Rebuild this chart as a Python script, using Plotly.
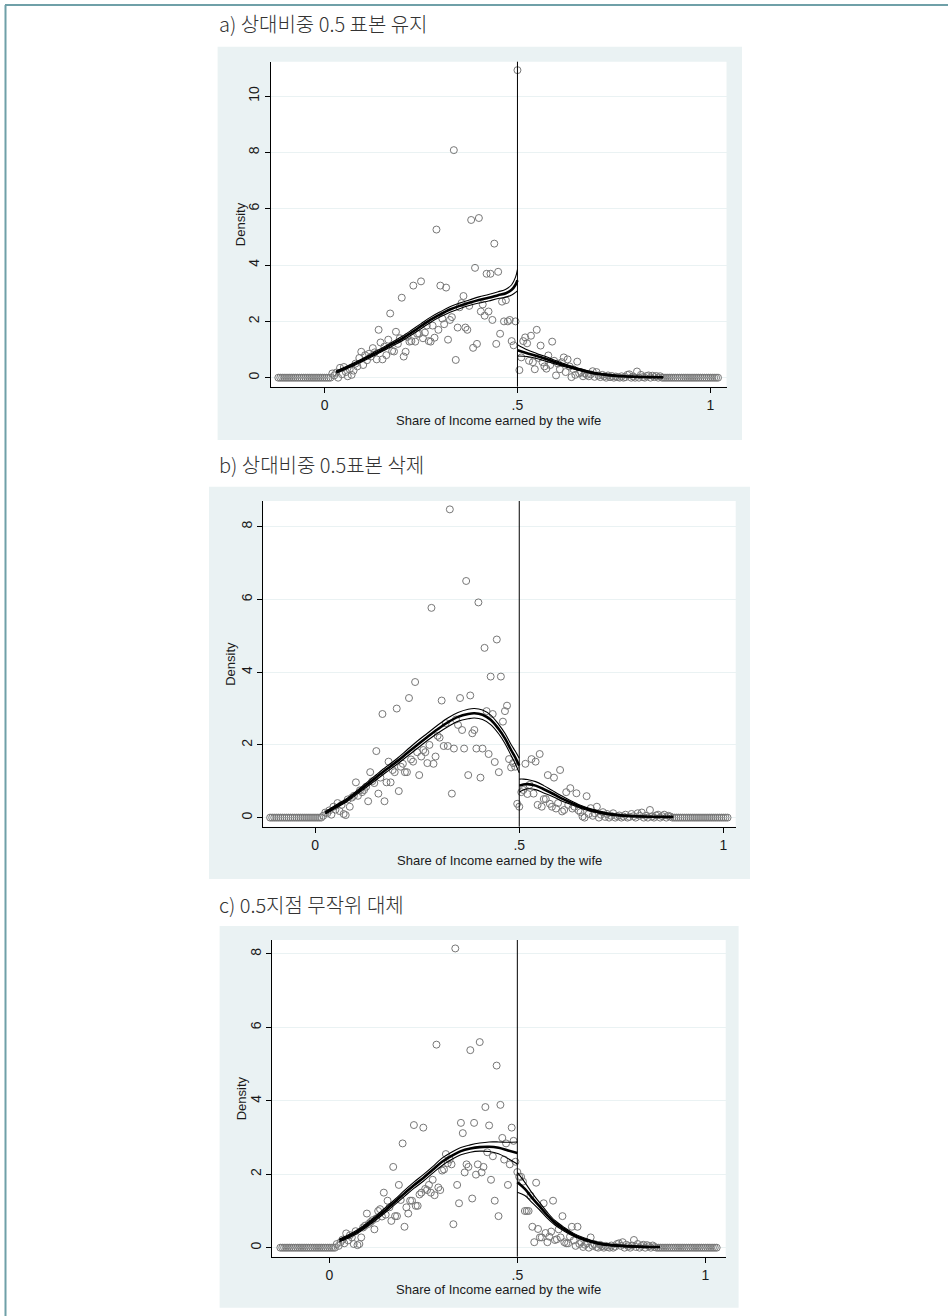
import numpy as np
import plotly.graph_objects as go

# ---------------- data ----------------
BIN_WIDTH = 0.005
DENS_START = 0.02          # first bin covered by the *_density lists below

tick_vals_x = [0, 0.5, 1]
tick_text_x = ["0", ".5", "1"]

panel_titles = ["a) 상대비중 0.5 표본 유지", "b) 상대비중 0.5표본 삭제", "c) 0.5지점 무작위 대체"]
x_title = "Share of Income earned by the wife"
y_title = "Density"

# bin range (first / last bin centre) for each panel
a_bins = (-0.12, 1.02)
b_bins = (-0.11, 1.01)
c_bins = (-0.13, 1.03)

# bin densities for bins 0.020, 0.025, ..., 0.870 (others are 0)
a_density = [
    0.15, 0.08, 0.18, 0.0, 0.35, 0.12, 0.38, 0.2, 0.05, 0.3,
    0.1, 0.25, 0.5, 0.4, 0.7, 0.92, 0.45, 0.8, 0.62, 0.85,
    0.75, 1.05, 0.9, 0.65, 1.7, 1.25, 0.65, 1.1, 0.8, 1.35,
    2.28, 0.95, 0.93, 1.63, 1.2, 1.4, 2.84, 0.75, 0.92, 1.45,
    1.28, 1.3, 3.27, 1.28, 1.56, 1.56, 3.42, 1.4, 1.6, 1.85,
    1.3, 1.28, 1.85, 1.42, 5.26, 1.7, 3.27, 2.1, 1.9, 3.2,
    1.35, 2.05, 2.15, 8.08, 0.63, 1.78, 2.5, 2.65, 2.9, 1.78,
    1.7, 2.55, 5.6, 1.06, 3.9, 1.2, 5.67, 2.35, 2.6, 2.2,
    3.69, 2.35, 3.69, 2.05, 4.76, 1.2, 3.76, 1.56, 2.7, 2.0,
    2.75, 2.0, 2.05, 1.3, 1.15, 2.0, 10.92,
    0.27, 0.72, 1.3, 1.43, 1.22, 0.6, 1.49, 0.55, 0.3, 1.7,
    0.7, 1.14, 0.55, 0.4, 0.32, 0.79, 0.45, 1.28, 0.6, 0.08,
    0.5, 0.3, 0.55, 0.72, 0.2, 0.65, 0.4, 0.02, 0.3, 0.1,
    0.57, 0.15, 0.2, 0.05, 0.15, 0.1, 0.05, 0.12, 0.23, 0.03,
    0.2, 0.08, 0.02, 0.1, 0.05, 0.0, 0.08, 0.02, 0.06, 0.0,
    0.04, 0.02, 0.0, 0.05, 0.0, 0.02, 0.1, 0.12, 0.0, 0.04,
    0.0, 0.22, 0.0, 0.1, 0.02, 0.0, 0.06, 0.08, 0.0, 0.07,
    0.02, 0.06, 0.0, 0.05,
]
b_density = [
    0.05, 0.14, 0.12, 0.2, 0.08, 0.3, 0.22, 0.4, 0.18, 0.35,
    0.1, 0.07, 0.5, 0.3, 0.55, 0.6, 0.97, 0.6, 0.75, 0.7,
    0.76, 0.85, 0.45, 1.25, 1.0, 0.95, 1.83, 0.66, 1.1, 2.85,
    0.45, 0.97, 1.54, 0.97, 1.31, 1.25, 3.0, 0.73, 1.4, 1.48,
    1.25, 1.25, 3.29, 1.6, 1.54, 3.73, 1.8, 1.17, 1.68, 1.86,
    1.8, 1.5, 2.0, 5.77, 1.48, 1.68, 2.25, 2.2, 3.22, 1.97,
    2.6, 1.97, 8.48, 0.66, 1.9, 2.7, 2.55, 3.29, 2.41, 1.9,
    6.51, 1.17, 3.36, 2.32, 2.41, 1.9, 5.92, 1.1, 1.9, 4.67,
    2.93, 1.75, 3.88, 2.85, 1.53, 4.9, 1.25, 3.88, 2.64, 2.93,
    3.08, 1.61, 1.38, 1.5, 1.4, 0.38, 0.3,
    0.7, 0.76, 1.48, 0.65, 0.9, 1.61, 0.66, 1.54, 0.35, 1.75,
    0.3, 0.51, 0.51, 1.17, 0.38, 0.3, 1.1, 0.25, 0.4, 1.31,
    0.17, 0.21, 0.7, 0.35, 0.81, 0.25, 0.3, 0.67, 0.2, 0.15,
    0.03, 0.0, 0.59, 0.1, 0.26, 0.05, 0.12, 0.3, 0.0, 0.08,
    0.15, 0.02, 0.1, 0.0, 0.05, 0.12, 0.0, 0.04, 0.06, 0.0,
    0.03, 0.08, 0.0, 0.02, 0.1, 0.04, 0.0, 0.12, 0.05, 0.14,
    0.0, 0.05, 0.0, 0.21, 0.03, 0.0, 0.06, 0.08, 0.0, 0.04,
    0.08, 0.0, 0.05, 0.03,
]
c_density = [
    0.1, 0.05, 0.15, 0.22, 0.12, 0.39, 0.2, 0.34, 0.28, 0.1,
    0.45, 0.07, 0.1, 0.28, 0.55, 0.6, 0.93, 0.65, 0.7, 0.75,
    0.5, 0.8, 1.0, 1.05, 0.85, 1.5, 0.9, 1.28, 1.1, 0.73,
    2.2, 0.86, 0.86, 1.71, 1.3, 2.84, 0.57, 1.1, 0.93, 1.28,
    1.28, 3.34, 1.14, 1.14, 1.45, 1.5, 3.27, 1.6, 1.57, 1.71,
    1.5, 1.85, 1.43, 5.53, 1.64, 1.57, 2.1, 2.13, 2.55, 2.3,
    2.4, 2.27, 0.64, 8.15, 1.71, 1.21, 3.4, 3.12, 2.05, 2.27,
    2.2, 5.38, 1.34, 3.4, 1.99, 2.27, 5.6, 2.05, 2.2, 3.83,
    2.6, 3.33, 1.85, 2.49, 1.28, 4.96, 0.86, 3.89, 2.99, 2.4,
    2.84, 1.71, 2.27, 3.27, 2.91, 2.34, 2.06,
    1.93, 1.93, 1.8, 1.0, 1.0, 1.0, 1.42, 0.57, 0.15, 1.77,
    0.51, 0.28, 0.28, 1.21, 0.4, 0.15, 0.3, 0.44, 1.28, 0.21,
    0.23, 0.5, 0.28, 0.86, 0.15, 0.12, 0.12, 0.3, 0.57, 0.2,
    0.05, 0.57, 0.1, 0.15, 0.02, 0.08, 0.12, 0.0, 0.28, 0.05,
    0.1, 0.02, 0.0, 0.08, 0.04, 0.0, 0.05, 0.02, 0.0, 0.06,
    0.0, 0.03, 0.1, 0.12, 0.05, 0.15, 0.0, 0.08, 0.04, 0.0,
    0.06, 0.21, 0.02, 0.1, 0.0, 0.05, 0.08, 0.0, 0.07, 0.04,
    0.0, 0.06, 0.02, 0.0,
]

# fitted local-linear density, left and right of 0.5, with CI half widths
a_fit_left_x = [0.03, 0.05, 0.075, 0.1, 0.125, 0.15, 0.175, 0.2, 0.225, 0.25, 0.275, 0.3, 0.325, 0.35, 0.375, 0.4, 0.425, 0.45, 0.47, 0.485, 0.495, 0.5]
a_fit_left_y = [0.2, 0.32, 0.47, 0.64, 0.82, 1.0, 1.19, 1.38, 1.6, 1.83, 2.06, 2.25, 2.42, 2.55, 2.66, 2.76, 2.84, 2.93, 3.0, 3.12, 3.3, 3.46]
a_fit_left_hw = [0.04, 0.045, 0.05, 0.05, 0.06, 0.065, 0.07, 0.08, 0.085, 0.09, 0.09, 0.09, 0.095, 0.1, 0.1, 0.11, 0.115, 0.12, 0.14, 0.18, 0.27, 0.38]
a_fit_right_x = [0.5, 0.525, 0.55, 0.575, 0.6, 0.625, 0.65, 0.675, 0.7, 0.725, 0.75, 0.775, 0.8, 0.825, 0.85, 0.878]
a_fit_right_y = [0.97, 0.87, 0.77, 0.66, 0.54, 0.43, 0.33, 0.24, 0.16, 0.11, 0.075, 0.05, 0.035, 0.025, 0.02, 0.015]
a_fit_right_hw = [0.2, 0.12, 0.09, 0.08, 0.06, 0.05, 0.04, 0.035, 0.03, 0.025, 0.02, 0.015, 0.015, 0.012, 0.012, 0.012]

b_fit_left_x = [0.025, 0.05, 0.075, 0.1, 0.125, 0.15, 0.175, 0.2, 0.225, 0.25, 0.275, 0.3, 0.325, 0.35, 0.375, 0.39, 0.41, 0.43, 0.45, 0.465, 0.48, 0.49, 0.5]
b_fit_left_y = [0.13, 0.3, 0.46, 0.67, 0.89, 1.11, 1.33, 1.54, 1.77, 2.0, 2.22, 2.43, 2.62, 2.77, 2.85, 2.87, 2.83, 2.69, 2.43, 2.18, 1.86, 1.66, 1.43]
b_fit_left_hw = [0.03, 0.04, 0.045, 0.05, 0.06, 0.07, 0.075, 0.08, 0.09, 0.1, 0.1, 0.11, 0.12, 0.12, 0.13, 0.13, 0.13, 0.13, 0.13, 0.14, 0.15, 0.17, 0.2]
b_fit_right_x = [0.5, 0.51, 0.52, 0.54, 0.56, 0.58, 0.6, 0.625, 0.65, 0.675, 0.7, 0.725, 0.75, 0.8, 0.85, 0.877]
b_fit_right_y = [0.88, 0.91, 0.92, 0.88, 0.78, 0.67, 0.55, 0.42, 0.3, 0.21, 0.14, 0.09, 0.06, 0.03, 0.02, 0.02]
b_fit_right_hw = [0.18, 0.15, 0.13, 0.11, 0.1, 0.08, 0.07, 0.05, 0.04, 0.035, 0.03, 0.02, 0.02, 0.015, 0.012, 0.012]

c_fit_left_x = [0.027, 0.05, 0.075, 0.1, 0.125, 0.15, 0.175, 0.2, 0.225, 0.25, 0.275, 0.3, 0.325, 0.35, 0.375, 0.4, 0.425, 0.45, 0.475, 0.5]
c_fit_left_y = [0.2, 0.3, 0.44, 0.62, 0.82, 1.03, 1.25, 1.48, 1.7, 1.9, 2.12, 2.34, 2.5, 2.63, 2.7, 2.74, 2.75, 2.72, 2.65, 2.58]
c_fit_left_hw = [0.04, 0.045, 0.05, 0.05, 0.06, 0.065, 0.07, 0.08, 0.085, 0.09, 0.09, 0.1, 0.1, 0.1, 0.1, 0.11, 0.13, 0.16, 0.22, 0.3]
c_fit_right_x = [0.5, 0.52, 0.54, 0.56, 0.58, 0.6, 0.625, 0.65, 0.675, 0.7, 0.725, 0.75, 0.8, 0.85, 0.879]
c_fit_right_y = [1.78, 1.6, 1.35, 1.12, 0.88, 0.68, 0.5, 0.35, 0.24, 0.16, 0.1, 0.07, 0.035, 0.02, 0.02]
c_fit_right_hw = [0.27, 0.18, 0.13, 0.1, 0.08, 0.06, 0.05, 0.04, 0.035, 0.03, 0.025, 0.02, 0.015, 0.012, 0.012]

cutoff = 0.5

# ---------------- layout geometry (pixels in a 948x1316 page) ----------------
W, H = 948, 1316
panels = [
    dict(bins=a_bins, dens=a_density,
         fits=[(a_fit_left_x, a_fit_left_y, a_fit_left_hw), (a_fit_right_x, a_fit_right_y, a_fit_right_hw)],
         plot=(271, 726.5, 61.7, 386.7), bg=(217.6, 742, 46.7, 440), title_y=24,
         xr=[-0.139, 1.042], yr=[-0.32, 11.22], yt=[0, 2, 4, 6, 8, 10],
         xt_y=420, yt_x=240),
    dict(bins=b_bins, dens=b_density,
         fits=[(b_fit_left_x, b_fit_left_y, b_fit_left_hw), (b_fit_right_x, b_fit_right_y, b_fit_right_hw)],
         plot=(263.2, 735.7, 501, 826.7), bg=(209, 750, 486.7, 879), title_y=465,
         xr=[-0.127, 1.03], yr=[-0.25, 8.71], yt=[0, 2, 4, 6, 8],
         xt_y=860, yt_x=231),
    dict(bins=c_bins, dens=c_density,
         fits=[(c_fit_left_x, c_fit_left_y, c_fit_left_hw), (c_fit_right_x, c_fit_right_y, c_fit_right_hw)],
         plot=(272.1, 725.7, 940, 1256.7), bg=(219.6, 738.6, 926, 1307.7), title_y=905,
         xr=[-0.152, 1.054], yr=[-0.245, 8.38], yt=[0, 2, 4, 6, 8],
         xt_y=1289, yt_x=241),
]

def px_x(v):
    return v / W

def px_y(v):
    return 1 - v / H

AXIS_FONT = dict(family="Liberation Sans, Arial, sans-serif", size=13, color="#1a1a1a")
TICK_FONT = dict(family="Liberation Sans, Arial, sans-serif", size=14, color="#1a1a1a")
TITLE_FONT = dict(family="Noto Sans CJK KR, sans-serif", size=20, color="#333333", weight=300)
BG = "#eaf2f3"
DOT = "#777777"

fig = go.Figure()
shapes = []
annotations = []

# page border (top and left)
shapes.append(dict(type="line", xref="paper", yref="paper", x0=px_x(5), x1=1, y0=px_y(5), y1=px_y(5),
                   line=dict(color="#6fa0a8", width=2), layer="above"))
shapes.append(dict(type="line", xref="paper", yref="paper", x0=px_x(5.5), x1=px_x(5.5), y0=0, y1=px_y(5),
                   line=dict(color="#6fa0a8", width=2), layer="above"))

for i, p in enumerate(panels):
    n = i + 1
    xa = "x" if n == 1 else f"x{n}"
    ya = "y" if n == 1 else f"y{n}"
    l, r, t, b = p["plot"]
    bl, br, bt, bb = p["bg"]

    # graph region and plot region
    shapes.append(dict(type="rect", xref="paper", yref="paper", x0=px_x(bl), x1=px_x(br),
                       y0=px_y(bb), y1=px_y(bt), fillcolor=BG, line=dict(width=0), layer="below"))
    shapes.append(dict(type="rect", xref="paper", yref="paper", x0=px_x(l), x1=px_x(r),
                       y0=px_y(b), y1=px_y(t), fillcolor="white", line=dict(width=0), layer="below"))

    # bins
    lo, hi = p["bins"]
    xs = np.round(np.arange(lo, hi + BIN_WIDTH / 2, BIN_WIDTH), 3)
    ys = np.zeros(len(xs))
    start = int(round((DENS_START - lo) / BIN_WIDTH))
    ys[start:start + len(p["dens"])] = p["dens"]

    fig.add_trace(go.Scatter(x=xs, y=ys, mode="markers", xaxis=xa, yaxis=ya,
                             marker=dict(symbol="circle-open", size=7, color=DOT, line=dict(width=1, color=DOT)),
                             hoverinfo="skip"))

    for fx, fy, fh in p["fits"]:
        fx = np.array(fx); fy = np.array(fy); fh = np.array(fh)
        for yy, w in ((fy + fh, 1.1), (fy - fh, 1.1), (fy, 2.6)):
            fig.add_trace(go.Scatter(x=fx, y=yy, mode="lines", xaxis=xa, yaxis=ya,
                                     line=dict(color="black", width=w, shape="spline", smoothing=1),
                                     hoverinfo="skip"))

    # cutoff line
    shapes.append(dict(type="line", xref=xa, yref=f"{ya} domain", x0=cutoff, x1=cutoff, y0=0, y1=1,
                       line=dict(color="black", width=1), layer="above"))

    axis_common = dict(showline=True, linecolor="black", linewidth=1, ticks="outside", ticklen=5,
                       tickcolor="black", tickwidth=1, zeroline=False, tickfont=TICK_FONT, automargin=False,
                       fixedrange=True)
    fig.update_layout(**{
        ("xaxis" if n == 1 else f"xaxis{n}"): dict(
            domain=[px_x(l), px_x(r)], range=p["xr"], anchor=ya, tickvals=tick_vals_x,
            ticktext=tick_text_x, showgrid=False, **axis_common),
        ("yaxis" if n == 1 else f"yaxis{n}"): dict(
            domain=[px_y(b), px_y(t)], range=p["yr"], anchor=xa, tickvals=p["yt"],
            ticktext=[str(v) for v in p["yt"]], tickangle=-90, showgrid=True, gridcolor=BG,
            gridwidth=1, **axis_common),
    })

    # titles
    annotations.append(dict(text=panel_titles[i], xref="paper", yref="paper", x=px_x(217), y=px_y(p["title_y"]),
                            xanchor="left", yanchor="middle", showarrow=False, font=TITLE_FONT))
    annotations.append(dict(text=x_title, xref="paper", yref="paper", x=px_x((l + r) / 2), y=px_y(p["xt_y"]),
                            xanchor="center", yanchor="middle", showarrow=False, font=AXIS_FONT))
    annotations.append(dict(text=y_title, xref="paper", yref="paper", x=px_x(p["yt_x"]), y=px_y((t + b) / 2),
                            xanchor="center", yanchor="middle", textangle=-90, showarrow=False, font=AXIS_FONT))

fig.update_layout(width=W, height=H, margin=dict(l=0, r=0, t=0, b=0), template="none",
                  paper_bgcolor="white", plot_bgcolor="rgba(0,0,0,0)", showlegend=False,
                  shapes=shapes, annotations=annotations)

fig.write_html("out.html", config={"displayModeBar": False},
               post_script="document.body.style.margin='0';")
